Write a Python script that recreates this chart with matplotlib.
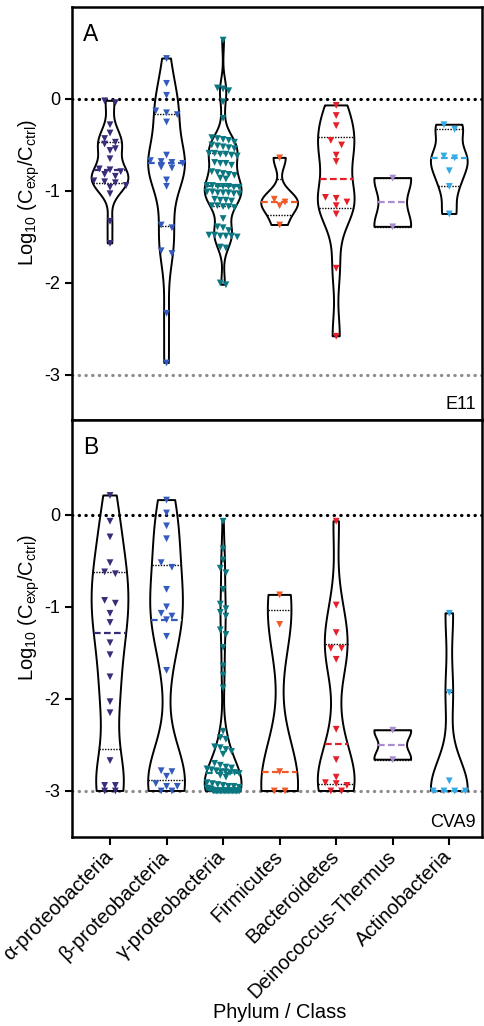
import numpy as np
import matplotlib
matplotlib.use("Agg")
import matplotlib.pyplot as plt
from matplotlib import cbook, mlab

plt.rcParams["font.family"] = ["Liberation Sans", "DejaVu Sans"]
plt.rcParams["mathtext.fontset"] = "custom"
plt.rcParams["mathtext.rm"] = "Liberation Sans"
plt.rcParams["mathtext.it"] = "Liberation Sans:italic"
plt.rcParams["axes.unicode_minus"] = False

# ---- data: log10(C_exp / C_ctrl) per isolate, grouped by phylum / class ----
categories = ["α-proteobacteria", "β-proteobacteria", "γ-proteobacteria",
              "Firmicutes", "Bacteroidetes", "Deinococcus-Thermus", "Actinobacteria"]
colors = ["#372d78", "#335bbd", "#0b7881", "#f05a28", "#e61e28", "#a98cd2", "#34aae6"]

alpha_e11 = [-0.02, -0.04, -0.28, -0.37, -0.43, -0.47, -0.49, -0.54, -0.56, -0.65,
             -0.76, -0.77, -0.79, -0.82, -0.84, -0.89, -0.90, -0.91, -0.94, -0.96,
             -1.03, -1.33, -1.57]
beta_e11 = [0.44, 0.17, 0.04, -0.13, -0.15, -0.17, -0.25, -0.61, -0.67, -0.68, -0.69,
            -0.70, -0.74, -0.75, -0.88, -0.95, -1.37, -1.40, -1.65, -1.68, -2.33, -2.87]
gamma_e11 = [0.64, 0.12, 0.11, 0.09, -0.03, -0.21,
             -0.42, -0.43, -0.45, -0.44, -0.47,
             -0.51, -0.52, -0.53, -0.50, -0.54,
             -0.59, -0.60, -0.61, -0.60, -0.62, -0.59,
             -0.69, -0.70, -0.72, -0.70,
             -0.79, -0.81, -0.82, -0.80, -0.83,
             -0.86, -0.87,
             -0.94, -0.95, -0.96, -0.95, -0.94, -0.96, -0.95,
             -1.01, -1.02, -1.03, -1.02, -1.01, -1.03, -1.02,
             -1.09, -1.10, -1.11, -1.10,
             -1.16, -1.17, -1.18, -1.17, -1.16,
             -1.30, -1.39, -1.40, -1.43,
             -1.48, -1.49, -1.49, -1.50, -1.49, -1.48,
             -1.61, -1.62, -2.00, -2.02]
firm_e11 = [-0.64, -1.09, -1.12, -1.16, -1.37]
bact_e11 = [-0.07, -0.18, -0.29, -0.45, -0.50, -0.61, -0.68, -1.07, -1.08, -1.12,
            -1.16, -1.25, -1.84, -2.58]
deino_e11 = [-0.86, -1.39]
actino_e11 = [-0.28, -0.33, -0.62, -0.64, -0.78, -0.95, -1.25]

alpha_cva9 = [0.21, -0.07, -0.24, -0.52, -0.62, -0.64, -0.93, -0.96, -1.07, -1.17,
              -1.39, -1.52, -1.76, -2.03, -2.15, -2.67, -2.94, -2.94, -3.0, -3.0]
beta_cva9 = [0.16, 0.02, -0.12, -0.26, -0.52, -0.57, -0.81, -1.00, -1.07, -1.10, -1.14,
             -1.32, -1.69, -2.78, -2.79, -2.84, -2.92, -2.95, -2.95, -3.0, -3.0]
gamma_cva9 = [-0.07, -0.37, -0.49, -0.58, -0.63, -0.81, -0.97, -1.02, -1.06, -1.10,
              -1.25, -1.30, -1.44, -1.64, -1.74, -1.88,
              -2.35, -2.42, -2.44, -2.52, -2.53, -2.55, -2.57, -2.60,
              -2.70, -2.72, -2.74, -2.75, -2.76, -2.77, -2.78, -2.79, -2.79, -2.80,
              -2.80, -2.81, -2.83, -2.85,
              -2.91, -2.92, -2.93, -2.94, -2.95, -2.95, -2.96, -2.97, -2.97, -2.98,
              -2.98, -2.99,
              -3.0, -3.0, -3.0, -3.0, -3.0, -3.0, -3.0, -3.0, -3.0, -3.0,
              -3.0, -3.0, -3.0, -3.0, -3.0, -3.0, -3.0, -3.0, -3.0, -3.0]
firm_cva9 = [-0.87, -1.19, -2.79, -3.0, -3.0]
bact_cva9 = [-0.07, -0.98, -1.28, -1.45, -1.45, -1.57, -2.33, -2.66, -2.85, -2.91,
             -2.92, -2.94, -3.0, -3.0]
deino_cva9 = [-2.34, -2.66]
actino_cva9 = [-1.07, -1.93, -2.89, -3.0, -3.0, -3.0, -3.0]

e11 = [alpha_e11, beta_e11, gamma_e11, firm_e11, bact_e11, deino_e11, actino_e11]
cva9 = [alpha_cva9, beta_cva9, gamma_cva9, firm_cva9, bact_cva9, deino_cva9, actino_cva9]

# ---- layout ----
W, H = 484, 1026
fig = plt.figure(figsize=(W / 100, H / 100), dpi=100)
left, right = 72 / W, 482.5 / W
axA = fig.add_axes([left, 1 - 420 / H, right - left, 413 / H])
axB = fig.add_axes([left, 1 - 837 / H, right - left, 417 / H])

BW = 0.6          # kernel bandwidth factor (times Scott's n**-1/5)
VIOLIN_W = 0.65


def kde(X, coords):
    k = mlab.GaussianKDE(X, bw_method=lambda g: BW * g.num_dp ** -0.2)
    return k.evaluate(coords)


def row_offsets(values, step, tol=0.055, span=0.57):
    """Spread points that share a row symmetrically around the centre."""
    vals = np.asarray(values, float)
    order = np.argsort(-vals, kind="stable")
    offs = np.zeros_like(vals)
    rows, cur = [], []
    for i in order:
        if cur and vals[cur[0]] - vals[i] > tol:
            rows.append(cur)
            cur = []
        cur.append(i)
    if cur:
        rows.append(cur)
    for r in rows:
        n = len(r)
        s = step if n < 2 else min(step, span / (n - 1))
        for j, i in enumerate(r):
            offs[i] = (j - (n - 1) / 2) * s
    return offs


def draw_panel(ax, groups, tag, virus, ylim, virus_y):
    pos = np.arange(len(groups))
    ax.axhline(0, color="black", lw=2.3, ls=(0, (0.1, 2)), dash_capstyle="round", zorder=1)
    ax.axhline(-3, color="#8c8c8c", lw=2.3, ls=(0, (0.1, 2)), dash_capstyle="round", zorder=1)

    stats = cbook.violin_stats(groups, kde, points=300)
    parts = ax.violin(stats, positions=pos, widths=VIOLIN_W, showextrema=False)
    for b in parts["bodies"]:
        b.set_facecolor("none")
        b.set_edgecolor("black")
        b.set_linewidth(1.4)
        b.set_alpha(1)
        b.set_zorder(2)

    for i, (vals, st) in enumerate(zip(groups, stats)):
        vals = np.asarray(vals, float)
        c = colors[i]
        vmax = st["vals"].max()

        def half(y):
            return 0.5 * VIOLIN_W * np.interp(y, st["coords"], st["vals"]) / vmax

        q1, med, q3 = np.percentile(vals, [25, 50, 75], method="weibull")
        for q in (q1, q3):
            h = half(q)
            ax.plot([i - h, i + h], [q, q], color="black", lw=1.0, ls=(0, (1, 1)), zorder=3)
        h = half(med)
        ax.plot([i - h, i + h], [med, med], color=c, lw=1.6, ls=(0, (3, 1.5)), zorder=3)

        step = 0.19 if len(vals) < 30 else 0.1
        ax.scatter(i + row_offsets(vals, step), vals, marker="v", s=24, color=c,
                   edgecolors="none", zorder=4)

    ax.set_xlim(-0.672, 6.587)
    ax.set_ylim(*ylim)
    ax.set_yticks([-3, -2, -1, 0])
    ax.tick_params(axis="both", direction="out", length=5, width=1.5, labelsize=13)
    for s in ax.spines.values():
        s.set_linewidth(1.8)
    ax.set_ylabel(r"$\mathregular{Log_{10}\ (C_{exp}/C_{ctrl})}$", fontsize=14.5)
    ax.yaxis.set_label_coords(-0.074, 0.55)
    ax.text(0.027, 0.962, tag, transform=ax.transAxes, fontsize=16.5, ha="left", va="top")
    ax.text(0.984, virus_y, virus, transform=ax.transAxes, fontsize=13, ha="right",
            va="bottom")
    return pos


draw_panel(axA, e11, "A", "E11", (-3.49, 1.0), 0.018)
axA.set_xticks([])
pos = draw_panel(axB, cva9, "B", "CVA9", (-3.5, 1.03), 0.014)
axB.set_xticks(pos)
axB.set_xticklabels(categories, rotation=45, ha="right", va="center",
                    rotation_mode="anchor", fontsize=14.4)
axB.tick_params(axis="x", length=6, pad=6)

fig.text(280 / W, 1 - 1012 / H, "Phylum / Class", fontsize=14.4, ha="center", va="center")

fig.savefig("out.png", dpi=100)
